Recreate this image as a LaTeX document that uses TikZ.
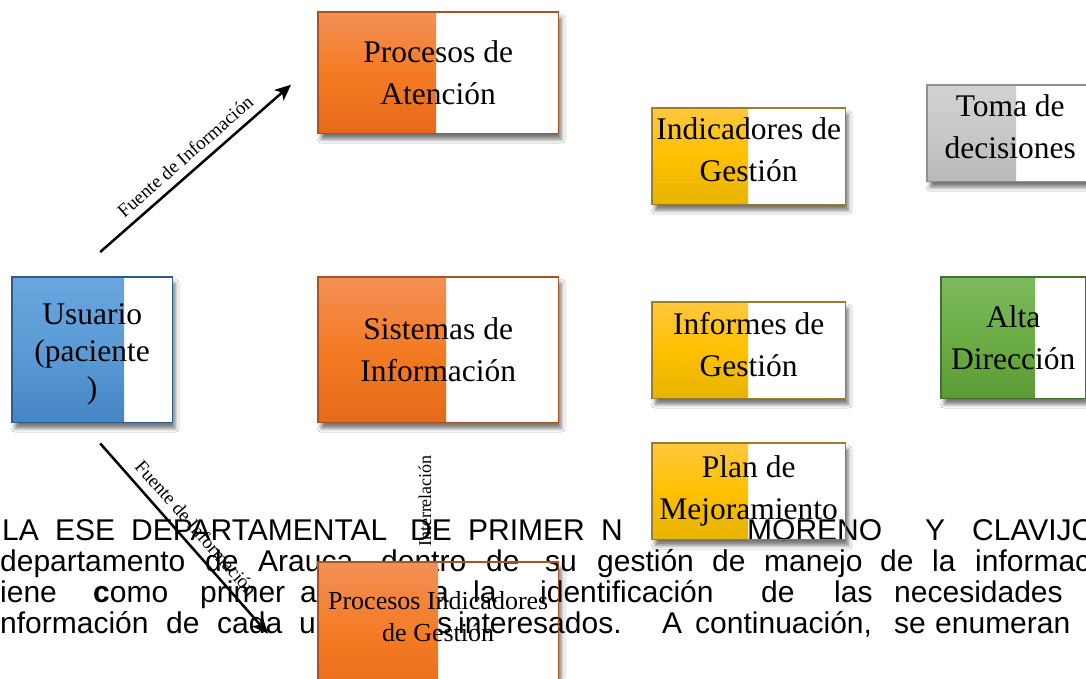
\documentclass[tikz,border=0pt]{standalone}
\usepackage{fontspec}
\setmainfont{Liberation Serif}
\newfontfamily\bodyfont{Liberation Sans}
\usetikzlibrary{arrows.meta, shadows.blur}
\definecolor{org-top}{HTML}{F39057}
\definecolor{org-mid}{HTML}{F47B23}
\definecolor{org-bot}{HTML}{E5691A}
\definecolor{org-line}{HTML}{A85420}
\definecolor{ylw-top}{HTML}{FFC83E}
\definecolor{ylw-mid}{HTML}{FFC000}
\definecolor{ylw-bot}{HTML}{E6B400}
\definecolor{ylw-line}{HTML}{9A7E2A}
\definecolor{blu-top}{HTML}{6AA5E0}
\definecolor{blu-mid}{HTML}{5B9BD5}
\definecolor{blu-bot}{HTML}{4585C5}
\definecolor{blu-line}{HTML}{2E5C8A}
\definecolor{gry-top}{HTML}{D2D2D2}
\definecolor{gry-mid}{HTML}{C8C8C8}
\definecolor{gry-bot}{HTML}{B8B8B8}
\definecolor{gry-line}{HTML}{909090}
\definecolor{grn-top}{HTML}{7DBA5E}
\definecolor{grn-mid}{HTML}{6CAD45}
\definecolor{grn-bot}{HTML}{5C9A35}
\definecolor{grn-line}{HTML}{41712C}
\tikzset{
    panel/.style={
        rectangle, inner sep=0pt,
        fill=white, anchor=north west,
        blur shadow={shadow xshift=3pt, shadow yshift=-6pt,
            shadow blur radius=4pt, shadow opacity=55}
    },
    boxtext/.style={
        align=center, inner sep=0pt,
        font=\fontsize{31.5pt}{42pt}\selectfont
    },
    bodytext/.style={
        anchor=base west, inner sep=0pt,
        font=\bodyfont\fontsize{30pt}{31pt}\selectfont
    },
    conn/.style={
        line width=2.5pt,
        -{Stealth[length=16pt, width=14pt, inset=4pt]},
    },
    fuente/.style={sloped, above, midway, inner sep=8pt,
        font=\fontsize{19pt}{19pt}\selectfont},
}

\begin{document}
\begin{tikzpicture}[x=1pt, y=-1pt]
        \useasboundingbox (0,0) rectangle (1086,678);
        \clip (0,0) rectangle (1086,678);
        \fill[white] (0,0) rectangle (1086,678);

        % white ground and shadow of the boxes
        \foreach \n/\x/\y/\bw/\bh in {atencion/318/12/240/121, indicadores/652/108/193/96,
                toma/927/85/166/96, usuario/12/277/160/145, sistemas/318/277/240/145,
                informes/652/302/193/96, alta/941/277/144/121, plan/652/443/193/96,
                procind/318/562/240/145}
            \node[panel, minimum width=\bw pt, minimum height=\bh pt] (\n) at (\x,\y) {};

        % running text of the page
        \foreach \x/\word in {2/LA, 55/ESE, 131/DEPARTAMENTAL, 410/DE, 468/PRIMER, 601/N,
                747/MORENO, 925/Y, 972/CLAVIJO}
            \node[bodytext] (la-\x) at (\x,540) {\word};
        \foreach \x/\word in {0/departamento, 205/de, 258/{Arauca,}, 381/dentro, 486/de,
                545/su, 597/gestión, 712/de, 764/manejo, 880/de, 932/la, 975/informac}
            \node[bodytext] (lb-\x) at (\x,571) {\word};
        \foreach \x/\word in {0/iene, 93/{{\bfseries c}omo}, 200/primer, 300/a, 432/a,
                473/la, 540/identificación, 761/de, 834/las, 894/necesidades}
            \node[bodytext] (lc-\x) at (\x,602) {\word};
        \foreach \x/\word in {0/nformación, 166/de, 217/cada, 299/u, 437/s,
                458/{interesados.}, 662/A, 695/{continuación,}, 894/se, 935/enumeran}
            \node[bodytext] (ld-\x) at (\x,633) {\word};

        % colored part and border of the boxes
        \foreach \n/\cw/\tone in {atencion/118/org, indicadores/96/ylw, toma/89/gry,
                usuario/112/blu, sistemas/128/org, informes/96/ylw, alta/94/grn,
                plan/96/ylw, procind/120/org} {
            \shade[top color=\tone-top, bottom color=\tone-bot, middle color=\tone-mid]
                (\n.north west) rectangle ([xshift=\cw pt]\n.south west);
            \draw[draw=\tone-line, line width=1.2pt] (\n.north west) rectangle (\n.south east);
        }

        \node[boxtext] (atencion-t) at (atencion) {Procesos de\\Atención};
        \node[boxtext, yshift=6pt] (indicadores-t) at (indicadores) {Indicadores de\\Gestión};
        \node[boxtext, yshift=6pt] (toma-t) at (toma) {Toma de\\decisiones};
        \node[boxtext, font=\fontsize{31.5pt}{37pt}\selectfont, yshift=-5pt] (usuario-t) at (usuario) {Usuario\\(paciente\\)};
        \node[boxtext] (sistemas-t) at (sistemas) {Sistemas de\\Información};
        \node[boxtext, yshift=6pt] (informes-t) at (informes) {Informes de\\Gestión};
        \node[boxtext] (alta-t) at (alta) {Alta\\Dirección};
        \node[boxtext] (plan-t) at (plan) {Plan de\\Mejoramiento};
        \node[boxtext, font=\fontsize{26pt}{32pt}\selectfont, anchor=north, yshift=-29pt]
            (procind-t) at (procind.north) {Procesos Indicadores\\de Gestión};

        \node[rotate=90, inner sep=0pt, font=\fontsize{18pt}{18pt}\selectfont]
            (interrel) at (425,501) {Interrelación};

        \draw[conn] ([shift={(8,-25)}]usuario.north) -- ([shift={(-27,12)}]atencion.west)
            node[fuente] {Fuente de Información};
        \draw[conn] ([shift={(8,21)}]usuario.south) -- ([shift={(-50,-1)}]procind.west)
            node[fuente] {Fuente de Información};
\end{tikzpicture}
\end{document}
